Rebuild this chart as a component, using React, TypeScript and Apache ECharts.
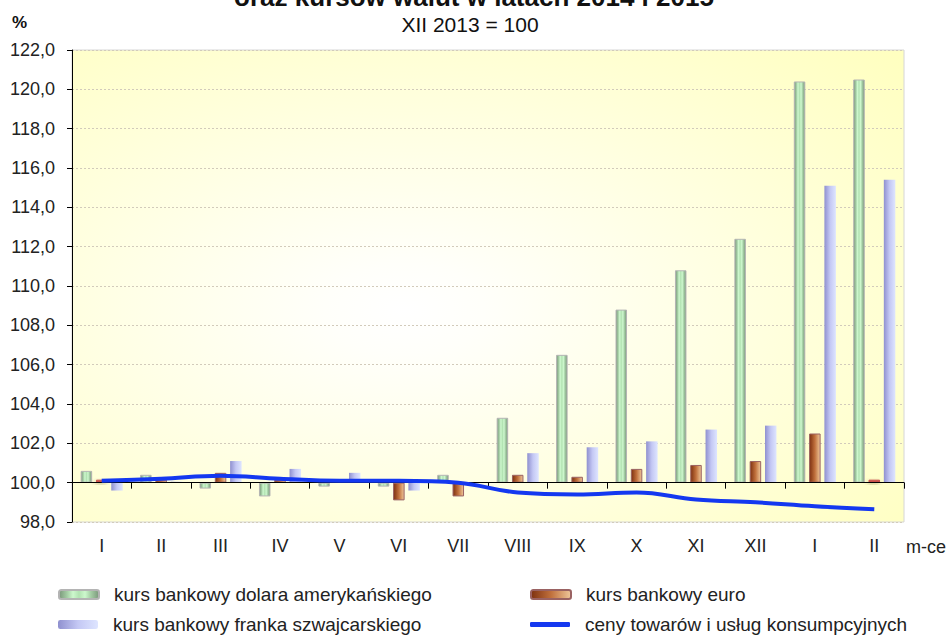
import React, { useEffect, useRef } from "react";
import * as echarts from "echarts";

// ---- data ----
const months = ["I", "II", "III", "IV", "V", "VI", "VII", "VIII", "IX", "X", "XI", "XII", "I", "II"];
const usdIndex = [100.6, 100.4, 99.7, 99.3, 99.8, 99.8, 100.4, 103.3, 106.5, 108.8, 110.8, 112.4, 120.4, 120.5];
const eurIndex = [100.0, 100.1, 100.5, 100.1, 100.05, 99.1, 99.3, 100.4, 100.3, 100.7, 100.9, 101.1, 102.5, 100.0];
const chfIndex = [99.6, 100.05, 101.1, 100.7, 100.5, 99.6, 99.95, 101.5, 101.8, 102.1, 102.7, 102.9, 115.1, 115.4];
const cpiIndex = [100.1, 100.2, 100.35, 100.2, 100.1, 100.1, 100.0, 99.5, 99.4, 99.5, 99.15, 99.0, 98.8, 98.65];
const baseValue = 100;
const yMin = 98;
const yMax = 122;
const yStep = 2;

const seriesNames = [
  "kurs bankowy dolara amerykańskiego",
  "kurs bankowy euro",
  "kurs bankowy franka szwajcarskiego",
  "ceny towarów i usług konsumpcyjnych",
];
const titleText = "oraz kursów walut w latach 2014 i 2015";
const subtitleText = "XII 2013 = 100";
const unitText = "%";
const xNameText = "m-ce";

const FONT = "'Liberation Sans', Arial, sans-serif";

const shift = (v: number) => +(v - baseValue).toFixed(3);

export default function App() {
  const ref = useRef<HTMLDivElement>(null);

  useEffect(() => {
    document.body.style.margin = "0";
    if (!ref.current) return;
    const chart = echarts.init(ref.current, undefined, { renderer: "svg" });

    const greenGrad = new echarts.graphic.LinearGradient(0, 0, 1, 0, [
      { offset: 0, color: "#7b977b" },
      { offset: 0.2, color: "#a3cca3" },
      { offset: 0.35, color: "#cdf8cd" },
      { offset: 0.5, color: "#b2e2b2" },
      { offset: 0.65, color: "#cdf8cd" },
      { offset: 0.8, color: "#a3cca3" },
      { offset: 1, color: "#7b977b" },
    ]);
    const brownGrad = new echarts.graphic.LinearGradient(0, 0, 1, 0, [
      { offset: 0, color: "#7e3110" },
      { offset: 0.5, color: "#c0703c" },
      { offset: 1, color: "#efc79a" },
    ]);
    const lavGrad = new echarts.graphic.LinearGradient(0, 0, 1, 0, [
      { offset: 0, color: "#8f90cf" },
      { offset: 0.5, color: "#c4c8f4" },
      { offset: 1, color: "#dee5ff" },
    ]);
    const bgGrad = new echarts.graphic.RadialGradient(0.4, 0.55, 0.8, [
      { offset: 0, color: "#ffffff" },
      { offset: 0.12, color: "#fffffa" },
      { offset: 1, color: "#ffffc0" },
    ]);

    const axisLabelStyle = { fontFamily: FONT, fontSize: 18, color: "#222" };
    const legendText = { fontFamily: FONT, fontSize: 19, color: "#222" };

    const legendBase = {
      itemWidth: 40,
      itemHeight: 9,
      textStyle: { ...legendText, padding: [0, 0, 0, 10] },
      selectedMode: false,
    };

    chart.setOption({
      animation: false,
      backgroundColor: "#ffffff",
      grid: {
        left: 72,
        right: 47,
        top: 50,
        bottom: 115,
        containLabel: false,
        show: true,
        backgroundColor: bgGrad,
        borderColor: "#d6d6d6",
        borderWidth: 1,
      },
      graphic: [
        {
          type: "text",
          x: 474,
          y: 10,
          style: {
            text: titleText,
            fontFamily: FONT,
            fontSize: 26,
            fontWeight: "bold",
            fill: "#111",
            align: "center",
            verticalAlign: "bottom",
          },
        },
        {
          type: "text",
          x: 470,
          y: 35,
          style: {
            text: subtitleText,
            fontFamily: FONT,
            fontSize: 21,
            fill: "#111",
            align: "center",
            verticalAlign: "bottom",
          },
        },
        {
          type: "text",
          x: 12,
          y: 22,
          style: {
            text: unitText,
            fontFamily: FONT,
            fontSize: 17,
            fontWeight: "bold",
            fill: "#111",
            align: "left",
            verticalAlign: "middle",
          },
        },
        {
          type: "text",
          x: 906,
          y: 547,
          style: {
            text: xNameText,
            fontFamily: FONT,
            fontSize: 18,
            fill: "#222",
            align: "left",
            verticalAlign: "middle",
          },
        },
      ],
      legend: [
        { ...legendBase, data: [seriesNames[0]], left: 53, top: 580 },
        { ...legendBase, data: [seriesNames[1]], left: 525, top: 580 },
        { ...legendBase, data: [seriesNames[2]], left: 53, top: 610 },
        {
          ...legendBase,
          itemHeight: 5,
          data: [{ name: seriesNames[3], icon: "roundRect" }],
          left: 525,
          top: 610,
        },
      ],
      xAxis: [
        {
          type: "category",
          data: months,
          position: "bottom",
          axisLine: { show: true, onZero: true, lineStyle: { color: "#000", width: 1 } },
          axisTick: { show: true, length: 6, lineStyle: { color: "#000" } },
          axisLabel: { show: false },
          splitLine: { show: false },
          z: 4,
        },
        {
          type: "category",
          data: months,
          position: "bottom",
          axisLine: { show: false, onZero: false },
          axisTick: { show: false },
          axisLabel: { ...axisLabelStyle, margin: 15 },
          splitLine: { show: false },
        },
      ],
      yAxis: {
        type: "value",
        min: yMin - baseValue,
        max: yMax - baseValue,
        interval: yStep,
        axisLine: { show: true, lineStyle: { color: "#000", width: 1 } },
        axisTick: { show: true, length: 5, lineStyle: { color: "#000" } },
        axisLabel: {
          ...axisLabelStyle,
          margin: 17,
          formatter: (v: number) => (v + baseValue).toFixed(1).replace(".", ","),
        },
        splitLine: { show: true, lineStyle: { color: "#d2cbbb", type: [2, 2], width: 1 } },
      },
      series: [
        {
          type: "bar",
          name: seriesNames[0],
          xAxisIndex: 0,
          data: usdIndex.map(shift),
          barWidth: 11.5,
          barGap: "33%",
          itemStyle: { color: greenGrad, borderColor: "#b4b4b4", borderWidth: 1 },
        },
        {
          type: "bar",
          name: seriesNames[1],
          xAxisIndex: 0,
          barWidth: 11.5,
          barGap: "33%",
          barMinHeight: 3,
          data: eurIndex.map((v) =>
            v === baseValue
              ? {
                  value: 0,
                  itemStyle: {
                    color: "#c9514b",
                    borderColor: "#c9514b",
                    borderWidth: 1,
                    shadowBlur: 4,
                    shadowColor: "rgba(80,60,0,0.35)",
                    shadowOffsetX: -1,
                    shadowOffsetY: 2,
                  },
                }
              : shift(v)
          ),
          itemStyle: { color: brownGrad, borderColor: "#9a6262", borderWidth: 1 },
        },
        {
          type: "bar",
          name: seriesNames[2],
          xAxisIndex: 0,
          barWidth: 11.5,
          barGap: "33%",
          data: chfIndex.map(shift),
          itemStyle: { color: lavGrad },
        },
        {
          type: "line",
          name: seriesNames[3],
          xAxisIndex: 0,
          data: cpiIndex.map(shift),
          smooth: 0.4,
          symbol: "none",
          lineStyle: { color: "#1438f0", width: 4 },
          itemStyle: { color: "#1438f0" },
          z: 5,
        },
      ],
    });

    return () => chart.dispose();
  }, []);

  return <div ref={ref} style={{ width: 951, height: 637 }} />;
}
